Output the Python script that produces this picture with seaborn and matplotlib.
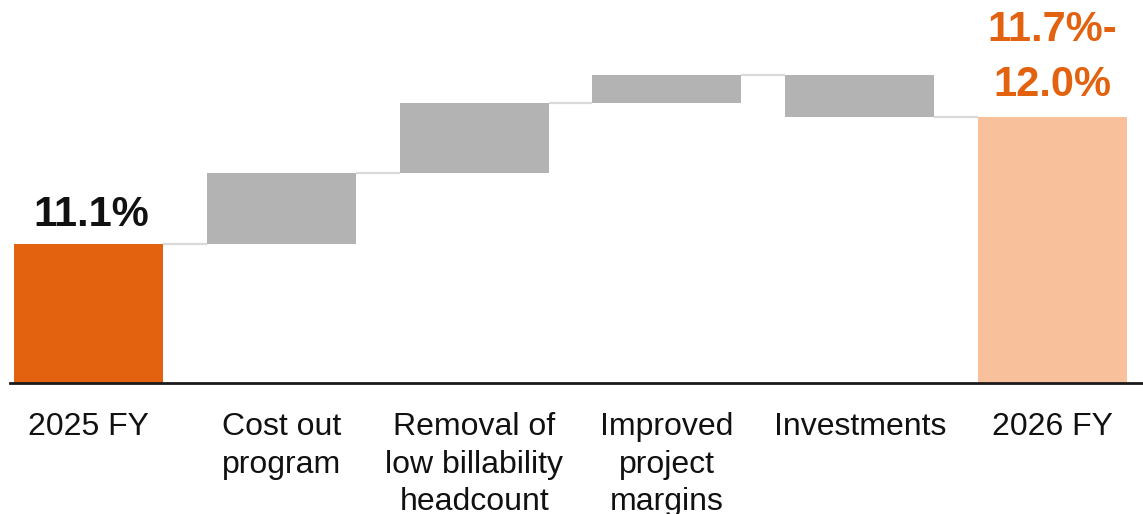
import matplotlib
matplotlib.use("Agg")
import matplotlib.pyplot as plt
import seaborn as sns
import pandas as pd
import numpy as np

# Data (operating margin walk, %)
categories = ['2025 FY', 'Cost out\nprogram', 'Removal of\nlow billability\nheadcount',
              'Improved\nproject\nmargins', 'Investments', '2026 FY']
start_value = 11.1
deltas = [0.42, 0.41, 0.17, -0.25]
end_value = start_value + sum(deltas)
start_label = '11.1%'
end_label = '11.7%-\n12.0%'

# Waterfall geometry
levels = np.concatenate([[start_value], start_value + np.cumsum(deltas)])
heights = [start_value] + [abs(d) for d in deltas] + [end_value]
bottoms = [0] + [min(levels[i], levels[i + 1]) for i in range(len(deltas))] + [0]
colors = ['#E36210'] + ['#B3B3B3'] * len(deltas) + ['#F8C19C']

df = pd.DataFrame({'category': categories, 'height': heights})

sns.set_theme(style="white")
plt.rcParams['font.family'] = ['Liberation Sans', 'DejaVu Sans']

fig = plt.figure(figsize=(11.43, 5.14), dpi=100)
ax = fig.add_axes([0, 0.2558, 1, 0.7442])

bar_w = 0.773
sns.barplot(data=df, x='category', y='height', bottom=bottoms, color='#B3B3B3',
            width=bar_w, errorbar=None, saturation=1, ax=ax)
for patch, c in zip(ax.patches, colors):
    patch.set_facecolor(c)
    patch.set_edgecolor('none')

# connector lines
for i, lev in enumerate(levels):
    ax.plot([i + bar_w / 2, i + 1 - bar_w / 2], [lev, lev], color='#D9D9D9', lw=1.6,
            zorder=0.5, solid_capstyle='butt')

ax.set_xlim(-0.459, 5.469)
ax.set_ylim(10.282, 12.541)

for s in ['top', 'left', 'right']:
    ax.spines[s].set_visible(False)
ax.spines['bottom'].set_color('#1a1a1a')
ax.spines['bottom'].set_linewidth(2)
ax.spines['bottom'].set_bounds(-0.407, 5.469)
ax.spines['bottom'].set_zorder(3)

ax.set_yticks([])
ax.set_xlabel('')
ax.set_ylabel('')
ax.tick_params(axis='x', length=0, pad=21, labelsize=23, colors='#111111')
for lbl in ax.get_xticklabels():
    lbl.set_linespacing(1.34)

ax.annotate(start_label, xy=(0, start_value), xytext=(2, 13), textcoords='offset points',
            ha='center', va='baseline', fontsize=30, fontweight='bold', color='#111111')
ax.annotate(end_label, xy=(5, end_value), xytext=(0, 9), textcoords='offset points',
            ha='center', va='bottom', fontsize=30, fontweight='bold', color='#E36210',
            linespacing=1.46)

plt.savefig('out.png', dpi=100)
plt.close()
